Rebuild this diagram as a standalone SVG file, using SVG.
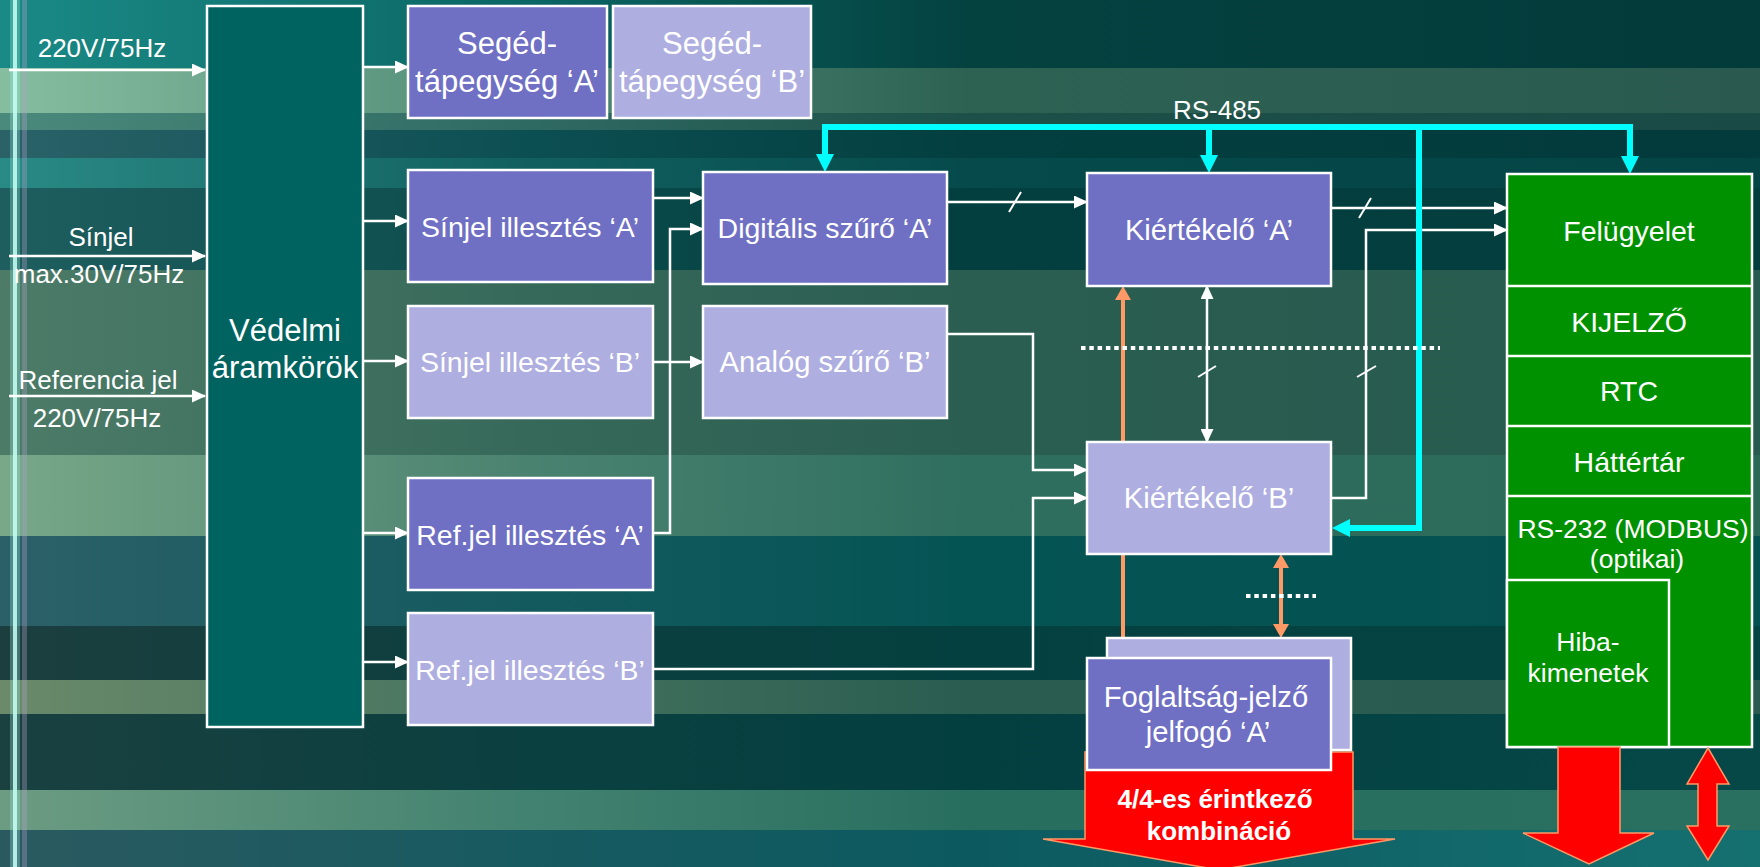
<svg xmlns="http://www.w3.org/2000/svg" width="1760" height="867" viewBox="0 0 1760 867">
  <defs>
    <style>
      .lbl { font-family: "Liberation Sans", Arial, sans-serif; font-size: 26px; fill: #ffffff; text-anchor: middle; }
      .box { font-family: "Liberation Sans", Arial, sans-serif; font-size: 28.5px; fill: #ffffff; text-anchor: middle; }
      .wide { font-size: 29.2px; }
      .big { font-size: 31px; }
      .pnl { font-size: 28.5px; }
      .sml { font-size: 26.5px; }
      .bold { font-family: "Liberation Sans", Arial, sans-serif; font-size: 26px; font-weight: bold; fill: #ffffff; text-anchor: middle; }
      .dark { fill: #6f6fc4; stroke: #ffffff; stroke-width: 2.5; }
      .light { fill: #aeaee0; stroke: #ffffff; stroke-width: 2.5; }
      .prot { fill: #00635f; stroke: #ffffff; stroke-width: 2.5; }
      .grn { fill: #009100; stroke: #ffffff; stroke-width: 2.5; }
      .wire { fill: none; stroke: #ffffff; stroke-width: 2.5; }
      .bus { fill: none; stroke: #00ffff; stroke-width: 6; }
      .rel { fill: none; stroke: #ff9966; stroke-width: 4; }
      .dots { fill: none; stroke: #ffffff; stroke-width: 4; stroke-dasharray: 4.5 3.8; }
      .tick { stroke: #ffffff; stroke-width: 2; }
      .out { fill: #ff0000; stroke: #ff9966; stroke-width: 1.5; }
    </style>
    <marker id="ah" markerUnits="userSpaceOnUse" markerWidth="14" markerHeight="13" refX="13" refY="6.5" orient="auto-start-reverse">
      <path d="M0,0 L14,6.5 L0,13 z" fill="#ffffff"/>
    </marker>
    <marker id="ahc" markerUnits="userSpaceOnUse" markerWidth="18" markerHeight="18" refX="1" refY="9" orient="auto-start-reverse">
      <path d="M0,0 L18,9 L0,18 z" fill="#00ffff"/>
    </marker>
    <marker id="aho" markerUnits="userSpaceOnUse" markerWidth="14" markerHeight="16" refX="1" refY="8" orient="auto-start-reverse">
      <path d="M0,0 L14,8 L0,16 z" fill="#ff9966"/>
    </marker>
    <linearGradient id="b1"><stop offset="0" stop-color="#1a8a86"/><stop offset="0.3" stop-color="#0b6664"/><stop offset="0.55" stop-color="#044240"/><stop offset="1" stop-color="#033a3a"/></linearGradient>
    <linearGradient id="b2"><stop offset="0" stop-color="#86bea0"/><stop offset="0.3" stop-color="#4f8a76"/><stop offset="0.55" stop-color="#2d6253"/><stop offset="1" stop-color="#2a5a4f"/></linearGradient>
    <linearGradient id="b2b"><stop offset="0" stop-color="#4a8a7c"/><stop offset="0.3" stop-color="#2f6a62"/><stop offset="0.55" stop-color="#1c5048"/><stop offset="1" stop-color="#1a4a45"/></linearGradient>
    <linearGradient id="b3"><stop offset="0" stop-color="#2a6268"/><stop offset="0.3" stop-color="#0c4f52"/><stop offset="0.55" stop-color="#033f40"/><stop offset="1" stop-color="#033a3b"/></linearGradient>
    <linearGradient id="b4"><stop offset="0" stop-color="#2a8a85"/><stop offset="0.3" stop-color="#11605f"/><stop offset="0.55" stop-color="#064a4c"/><stop offset="1" stop-color="#044445"/></linearGradient>
    <linearGradient id="b5"><stop offset="0" stop-color="#1f5e5e"/><stop offset="0.3" stop-color="#0c4c4c"/><stop offset="0.55" stop-color="#033f3f"/><stop offset="1" stop-color="#043d3d"/></linearGradient>
    <linearGradient id="b6"><stop offset="0" stop-color="#4c7c68"/><stop offset="0.3" stop-color="#37695a"/><stop offset="0.55" stop-color="#2a5e50"/><stop offset="1" stop-color="#285a4f"/></linearGradient>
    <linearGradient id="b7"><stop offset="0" stop-color="#78a888"/><stop offset="0.3" stop-color="#4a8270"/><stop offset="0.55" stop-color="#2f6f5f"/><stop offset="1" stop-color="#2b6858"/></linearGradient>
    <linearGradient id="b8"><stop offset="0" stop-color="#2c6068"/><stop offset="0.3" stop-color="#135a5e"/><stop offset="0.55" stop-color="#055454"/><stop offset="1" stop-color="#055050"/></linearGradient>
    <linearGradient id="b9"><stop offset="0" stop-color="#1c3e3e"/><stop offset="0.3" stop-color="#0c3f3f"/><stop offset="0.55" stop-color="#04403f"/><stop offset="1" stop-color="#054444"/></linearGradient>
    <linearGradient id="b10"><stop offset="0" stop-color="#6a8a6a"/><stop offset="0.3" stop-color="#44725e"/><stop offset="0.55" stop-color="#2a5d50"/><stop offset="1" stop-color="#2a5a50"/></linearGradient>
    <linearGradient id="b11"><stop offset="0" stop-color="#1a4040"/><stop offset="0.3" stop-color="#0b4040"/><stop offset="0.55" stop-color="#043f40"/><stop offset="1" stop-color="#064848"/></linearGradient>
    <linearGradient id="b12"><stop offset="0" stop-color="#6c9c82"/><stop offset="0.3" stop-color="#428270"/><stop offset="0.55" stop-color="#286e5f"/><stop offset="1" stop-color="#2a7060"/></linearGradient>
    <linearGradient id="b13"><stop offset="0" stop-color="#2a5a60"/><stop offset="0.3" stop-color="#175a60"/><stop offset="0.55" stop-color="#0c5a60"/><stop offset="1" stop-color="#157070"/></linearGradient>
  </defs>

  <!-- striped backdrop -->
  <g id="background">
    <rect x="0" y="0" width="1760" height="68" fill="url(#b1)"/>
    <rect x="0" y="68" width="1760" height="45" fill="url(#b2)"/>
    <rect x="0" y="113" width="1760" height="17" fill="url(#b2b)"/>
    <rect x="0" y="130" width="1760" height="28" fill="url(#b3)"/>
    <rect x="0" y="158" width="1760" height="30" fill="url(#b4)"/>
    <rect x="0" y="188" width="1760" height="82" fill="url(#b5)"/>
    <rect x="0" y="270" width="1760" height="185" fill="url(#b6)"/>
    <rect x="0" y="455" width="1760" height="81" fill="url(#b7)"/>
    <rect x="0" y="536" width="1760" height="90" fill="url(#b8)"/>
    <rect x="0" y="626" width="1760" height="54" fill="url(#b9)"/>
    <rect x="0" y="680" width="1760" height="34" fill="url(#b10)"/>
    <rect x="0" y="714" width="1760" height="76" fill="url(#b11)"/>
    <rect x="0" y="790" width="1760" height="40" fill="url(#b12)"/>
    <rect x="0" y="830" width="1760" height="37" fill="url(#b13)"/>
    <rect x="10" y="0" width="10" height="867" fill="#9ff0e6" opacity="0.3"/>
    <rect x="13" y="0" width="4" height="867" fill="#c8fff4" opacity="0.85"/>
    <rect x="22" y="0" width="5" height="867" fill="#b0a0c8" opacity="0.35"/>
  </g>

  <!-- signal inputs on the left -->
  <g id="inputs">
    <path class="wire" d="M9,70 H205" marker-end="url(#ah)"/>
    <path class="wire" d="M9,256 H205" marker-end="url(#ah)"/>
    <path class="wire" d="M9,396 H205" marker-end="url(#ah)"/>
    <text class="lbl" x="102" y="57">220V/75Hz</text>
    <text class="lbl" x="101" y="246">Sínjel</text>
    <text class="lbl" x="99" y="283">max.30V/75Hz</text>
    <text class="lbl" x="98" y="389">Referencia jel</text>
    <text class="lbl" x="97" y="427">220V/75Hz</text>
  </g>

  <g id="connectors">
    <!-- protection block outputs -->
    <path class="wire" d="M363,67 H408" marker-end="url(#ah)"/>
    <path class="wire" d="M363,221 H408" marker-end="url(#ah)"/>
    <path class="wire" d="M363,361 H408" marker-end="url(#ah)"/>
    <path class="wire" d="M363,533 H408" marker-end="url(#ah)"/>
    <path class="wire" d="M363,662 H408" marker-end="url(#ah)"/>
    <!-- matching stages to filters -->
    <path class="wire" d="M653,198 H703" marker-end="url(#ah)"/>
    <path class="wire" d="M653,533 H670 V229 H703" marker-end="url(#ah)"/>
    <path class="wire" d="M653,362 H703" marker-end="url(#ah)"/>
    <!-- filters to evaluators -->
    <path class="wire" d="M947,202 H1087" marker-end="url(#ah)"/>
    <line class="tick" x1="1009" y1="212" x2="1021" y2="192"/>
    <path class="wire" d="M947,334 H1033 V470 H1087" marker-end="url(#ah)"/>
    <path class="wire" d="M653,669 H1033 V498 H1087" marker-end="url(#ah)"/>
    <!-- evaluators to supervisor -->
    <path class="wire" d="M1331,208 H1507" marker-end="url(#ah)"/>
    <line class="tick" x1="1359" y1="218" x2="1371" y2="198"/>
    <path class="wire" d="M1331,498 H1366 V230 H1507" marker-end="url(#ah)"/>
    <line class="tick" x1="1357" y1="377" x2="1376" y2="366"/>
    <!-- link between evaluators -->
    <path class="wire" d="M1207,286 V442" marker-start="url(#ah)" marker-end="url(#ah)"/>
    <line class="tick" x1="1198" y1="377" x2="1216" y2="366"/>
    <!-- RS-485 bus -->
    <path class="bus" d="M825,155 V127 H1630 V157" marker-start="url(#ahc)" marker-end="url(#ahc)"/>
    <path class="bus" d="M1209,127 V156" marker-end="url(#ahc)"/>
    <path class="bus" d="M1419,127 V528 H1349" marker-end="url(#ahc)"/>
    <text class="lbl" x="1217" y="119">RS-485</text>
    <!-- relay drive lines -->
    <path class="rel" d="M1123,299 V645" marker-start="url(#aho)" marker-end="url(#aho)"/>
    <path class="rel" d="M1281,567 V625" marker-start="url(#aho)" marker-end="url(#aho)"/>
    <!-- channel separators -->
    <path class="dots" d="M1081,348 H1440"/>
    <path class="dots" d="M1246,596 H1316"/>
  </g>

  <g id="vedelmi">
    <rect class="prot" x="207" y="6" width="156" height="721"/>
    <text class="box big" x="285" y="341">Védelmi</text>
    <text class="box big" x="285" y="378">áramkörök</text>
  </g>

  <g id="seged-a">
    <rect class="dark" x="408" y="6" width="199" height="112"/>
    <text class="box big" x="507" y="54">Segéd-</text>
    <text class="box big" x="507" y="92">tápegység ‘A’</text>
  </g>
  <g id="seged-b">
    <rect class="light" x="613" y="6" width="198" height="112"/>
    <text class="box big" x="712" y="54">Segéd-</text>
    <text class="box big" x="712" y="92">tápegység ‘B’</text>
  </g>

  <g id="sinjel-a">
    <rect class="dark" x="408" y="170" width="245" height="112"/>
    <text class="box" x="530" y="237">Sínjel illesztés ‘A’</text>
  </g>
  <g id="sinjel-b">
    <rect class="light" x="408" y="306" width="245" height="112"/>
    <text class="box" x="530" y="372">Sínjel illesztés ‘B’</text>
  </g>
  <g id="refjel-a">
    <rect class="dark" x="408" y="478" width="245" height="112"/>
    <text class="box" x="530" y="545">Ref.jel illesztés ‘A’</text>
  </g>
  <g id="refjel-b">
    <rect class="light" x="408" y="613" width="245" height="112"/>
    <text class="box" x="530" y="680">Ref.jel illesztés ‘B’</text>
  </g>

  <g id="digitalis-szuro-a">
    <rect class="dark" x="703" y="172" width="244" height="112"/>
    <text class="box" x="825" y="238">Digitális szűrő ‘A’</text>
  </g>
  <g id="analog-szuro-b">
    <rect class="light" x="703" y="306" width="244" height="112"/>
    <text class="box wide" x="825" y="372">Analóg szűrő ‘B’</text>
  </g>

  <g id="kiertekelo-a">
    <rect class="dark" x="1087" y="173" width="244" height="113"/>
    <text class="box wide" x="1209" y="240">Kiértékelő ‘A’</text>
  </g>
  <g id="kiertekelo-b">
    <rect class="light" x="1087" y="442" width="244" height="112"/>
    <text class="box wide" x="1209" y="508">Kiértékelő ‘B’</text>
  </g>

  <g id="erintkezo">
    <polygon class="out" points="1085,752 1353,752 1353,839 1395,839 1219,870 1043,839 1085,839"/>
    <text class="bold" x="1215" y="808">4/4-es érintkező</text>
    <text class="bold" x="1219" y="840">kombináció</text>
  </g>

  <g id="foglaltsag">
    <rect class="light" x="1107" y="638" width="244" height="112"/>
    <rect class="dark" x="1087" y="658" width="244" height="112"/>
    <text class="box wide" x="1206" y="707">Foglaltság-jelző</text>
    <text class="box wide" x="1208" y="742">jelfogó ‘A’</text>
  </g>

  <g id="felugyelet">
    <rect class="grn" x="1507" y="174" width="245" height="573"/>
    <line class="wire" x1="1507" y1="286" x2="1752" y2="286"/>
    <line class="wire" x1="1507" y1="356" x2="1752" y2="356"/>
    <line class="wire" x1="1507" y1="426" x2="1752" y2="426"/>
    <line class="wire" x1="1507" y1="496" x2="1752" y2="496"/>
    <rect class="grn" x="1507" y="580" width="162" height="167"/>
    <text class="box pnl" x="1629" y="241">Felügyelet</text>
    <text class="box pnl" x="1629" y="332">KIJELZŐ</text>
    <text class="box pnl" x="1629" y="401">RTC</text>
    <text class="box pnl" x="1629" y="472">Háttértár</text>
    <text class="box sml" x="1633" y="538">RS-232 (MODBUS)</text>
    <text class="box sml" x="1637" y="568">(optikai)</text>
    <text class="box sml" x="1588" y="651">Hiba-</text>
    <text class="box sml" x="1588" y="682">kimenetek</text>
  </g>

  <g id="hiba-kimenet">
    <polygon class="out" points="1558,747 1620,747 1620,833 1654,833 1589,864 1523,833 1558,833"/>
  </g>
  <g id="rs232-port">
    <polygon class="out" points="1708,748 1729,784 1717,784 1717,826 1729,826 1708,860 1687,826 1698,826 1698,784 1687,784"/>
  </g>
</svg>
